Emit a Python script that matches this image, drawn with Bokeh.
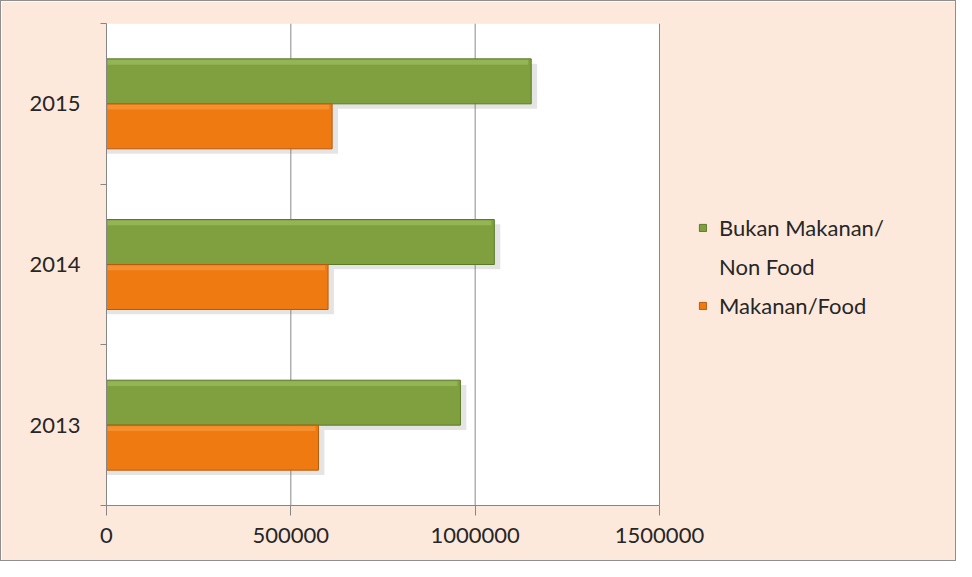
from bokeh.plotting import figure
from bokeh.models import Range1d, FixedTicker, Legend, LegendItem
from bokeh.embed import file_html
from bokeh.resources import INLINE

# ---- data ----
years = ["2013", "2014", "2015"]
non_food = [960000, 1052000, 1152000]
food = [575000, 601000, 612000]
x_ticks = [0, 500000, 1000000, 1500000]
x_tick_labels = ["0", "500000", "1000000", "1500000"]
legend_lines = ["Bukan Makanan/", "Non Food", "Makanan/Food"]

green = "#80a040"
green_edge = "#5b7a28"
green_hi = "#a8ca68"
orange = "#f07a12"
orange_edge = "#b85a0c"
orange_hi = "#f9a549"
PEACH = "#fde9dc"

FONT = "Lato"
TEXT = "#262626"
FS = "22px"

W, H = 956, 561
LEFT, RIGHT_PAD, TOP, BOTTOM = 105, 10, 22, 57
AXIS_PX = 553  # pixel length of the 0..1500000 axis
x_max = x_ticks[-1]
x_end = x_max * (W - LEFT - RIGHT_PAD) / AXIS_PX

centers = [i + 0.5 for i in range(len(years))]
off = 0.14
bh = 0.28
y_green = [c + off for c in centers]
y_food = [c - off for c in centers]

p = figure(width=W, height=H, output_backend="svg", toolbar_location=None,
           x_range=Range1d(0, x_end), y_range=Range1d(0, len(years)),
           min_border_left=LEFT, min_border_right=RIGHT_PAD, min_border_top=TOP,
           min_border_bottom=BOTTOM)
p.styles = {"border": "1px solid #8f8f8f", "box-sizing": "border-box"}
p.background_fill_color = PEACH
p.border_fill_color = PEACH
p.outline_line_color = PEACH
p.outline_line_width = 2
p.xgrid.grid_line_color = None
p.ygrid.grid_line_color = None

# white plot area (0 .. last tick)
p.quad(left=[0], right=[x_max], bottom=[0], top=[len(years)], fill_color="white",
       line_color=None)
# vertical grid lines
p.segment(x0=x_ticks[1:], y0=0, x1=x_ticks[1:], y1=len(years), line_color="#8a8a8a",
          line_width=1)

# shadows
sx = 16000
sy = 0.03
p.hbar(y=[v - sy for v in y_green], left=0, right=[v + sx for v in non_food], height=bh,
       color="#7a7a7a", alpha=0.2, line_color=None)
p.hbar(y=[v - sy for v in y_food], left=0, right=[v + sx for v in food], height=bh,
       color="#7a7a7a", alpha=0.2, line_color=None)

rg = p.hbar(y=y_green, left=0, right=non_food, height=bh, fill_color=green,
            line_color=green_edge, line_width=1)
ro = p.hbar(y=y_food, left=0, right=food, height=bh, fill_color=orange,
            line_color=orange_edge, line_width=1)
hh = 0.03
p.hbar(y=[v + bh / 2 - hh / 2 - 0.006 for v in y_green], left=3000,
       right=[v - 8000 for v in non_food], height=hh, fill_color=green_hi,
       fill_alpha=0.5, line_color=None)
p.hbar(y=[v + bh / 2 - hh / 2 - 0.006 for v in y_food], left=3000,
       right=[v - 8000 for v in food], height=hh, fill_color=orange_hi,
       fill_alpha=0.5, line_color=None)
blank = p.hbar(y=[], left=[], right=[], height=bh, fill_alpha=0, line_alpha=0)

xa = p.xaxis[0]
xa.ticker = FixedTicker(ticks=x_ticks)
xa.bounds = (0, x_max)
xa.major_label_overrides = {t: l for t, l in zip(x_ticks, x_tick_labels)}
xa.major_tick_out = 10
xa.major_tick_in = 0
xa.minor_tick_out = 0
xa.axis_line_color = "#868686"
xa.major_tick_line_color = "#868686"
xa.major_label_standoff = 12
xa.major_label_text_font = FONT
xa.major_label_text_font_size = FS
xa.major_label_text_color = TEXT

ya = p.yaxis[0]
ya.ticker = FixedTicker(ticks=centers, minor_ticks=[float(i) for i in range(len(years) + 1)])
ya.major_label_overrides = {c: y for c, y in zip(centers, years)}
ya.major_tick_out = 0
ya.major_tick_in = 0
ya.minor_tick_out = 6
ya.minor_tick_in = 0
ya.minor_tick_line_color = "#868686"
ya.axis_line_color = "#868686"
ya.major_label_standoff = 20
ya.major_label_text_font = FONT
ya.major_label_text_font_size = FS
ya.major_label_text_color = TEXT

legend = Legend(items=[LegendItem(label=legend_lines[0], renderers=[rg]),
                       LegendItem(label=legend_lines[1], renderers=[blank]),
                       LegendItem(label=legend_lines[2], renderers=[ro])],
                location=(592, 186))
legend.label_text_font = FONT
legend.label_text_font_size = FS
legend.label_text_color = TEXT
legend.glyph_width = 9
legend.glyph_height = 9
legend.spacing = 12
legend.padding = 0
legend.margin = 0
legend.label_standoff = 12
legend.background_fill_alpha = 0
legend.border_line_alpha = 0
p.add_layout(legend, "center")

open("out.html", "w").write(file_html(p, INLINE))
